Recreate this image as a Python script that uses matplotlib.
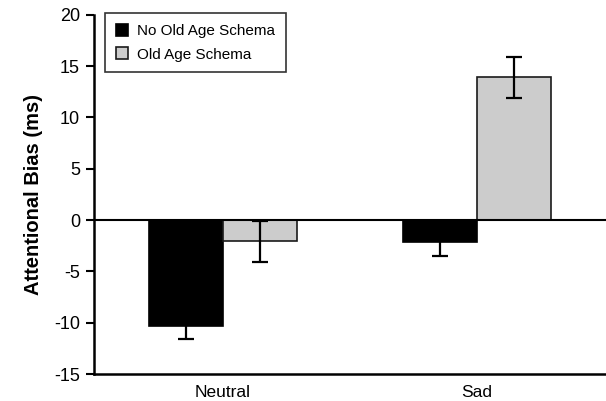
import numpy as np
import matplotlib
matplotlib.use("Agg")
import matplotlib.pyplot as plt

plt.rcParams['font.family'] = ['Liberation Sans', 'DejaVu Sans']
plt.rcParams['axes.unicode_minus'] = False

categories = ['Neutral', 'Sad']
no_schema = [-10.3, -2.1]
no_schema_err = [1.3, 1.4]
schema = [-2.05, 13.9]
schema_err = [2.0, 2.0]

fig = plt.figure(figsize=(6.06, 4.01), dpi=100)
ax = fig.add_axes([0.155, 0.067, 0.845, 0.896])

x = np.arange(len(categories))
w = 0.29
ebar = dict(ecolor='black', elinewidth=1.6, capsize=6, capthick=1.6)
ax.bar(x - w / 2, no_schema, w, color='black', edgecolor='black', linewidth=1.2,
       yerr=no_schema_err, error_kw=ebar, label='No Old Age Schema', zorder=2)
ax.bar(x + w / 2, schema, w, color='#cccccc', edgecolor='#1a1a1a', linewidth=1.2,
       yerr=schema_err, error_kw=ebar, label='Old Age Schema', zorder=2)

ax.axhline(0, color='black', linewidth=1.5, zorder=3)

ax.set_xlim(-0.508, 1.508)
ax.set_ylim(-15, 20)
ax.set_yticks(np.arange(-15, 21, 5))
ax.set_xticks(x)
ax.set_xticklabels(categories, fontsize=12.5)
ax.tick_params(axis='x', length=0, pad=8)
ax.tick_params(axis='y', length=6, width=1.5, labelsize=13, pad=4)

for s in ['top', 'right']:
    ax.spines[s].set_visible(False)
for s in ['left', 'bottom']:
    ax.spines[s].set_linewidth(1.8)

ax.set_ylabel('Attentional Bias (ms)', fontsize=14.5, fontweight='bold', labelpad=8)

leg = ax.legend(loc='upper left', bbox_to_anchor=(0.0215, 1.004), borderaxespad=0,
                fontsize=11, frameon=True, fancybox=False, handlelength=0.8,
                handleheight=0.8, handletextpad=0.6, borderpad=0.7, labelspacing=0.6)
leg.get_frame().set_edgecolor('black')
leg.get_frame().set_linewidth(1.2)

fig.savefig('out.png', dpi=100)
